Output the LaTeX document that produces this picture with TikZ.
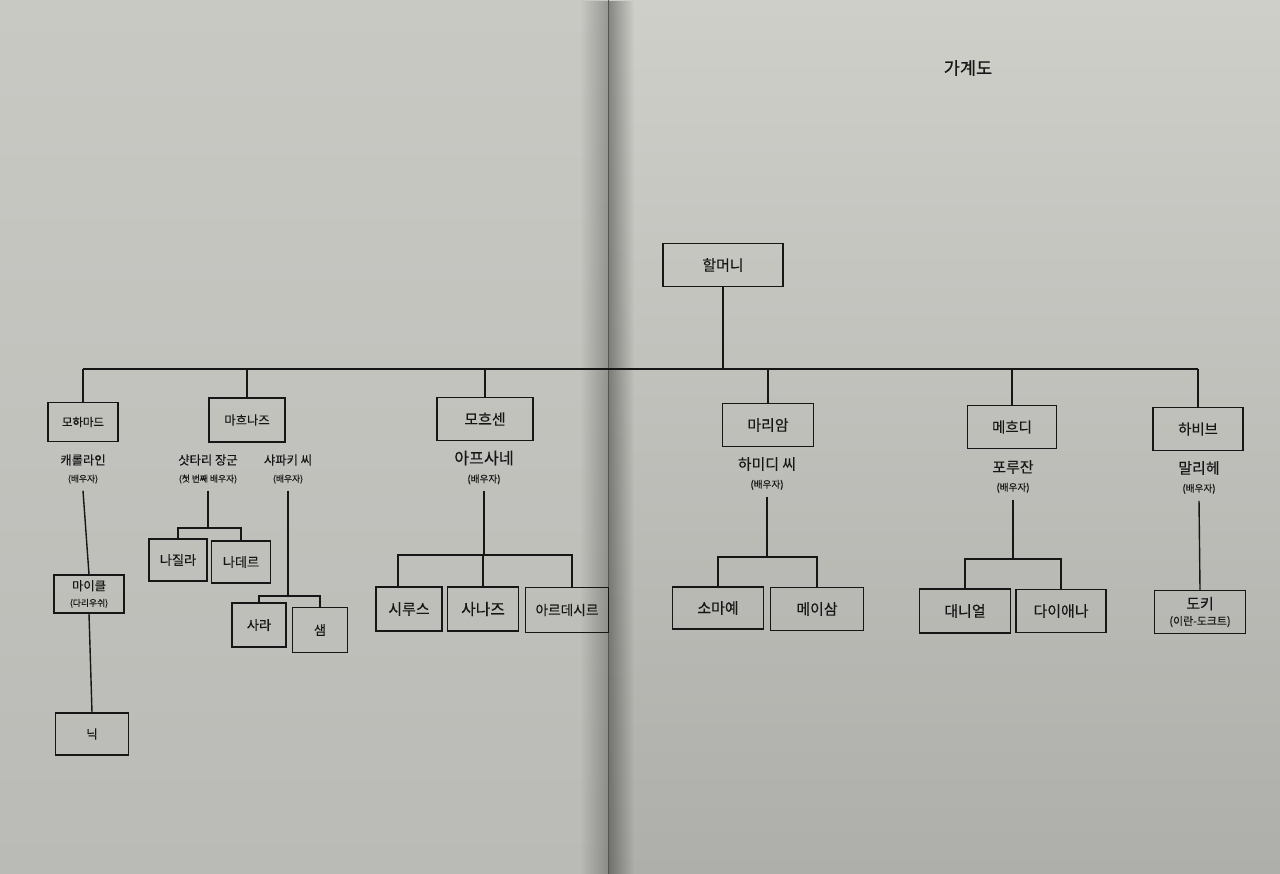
\documentclass[tikz,border=0pt]{standalone}
\usepackage{fontspec}
\setmainfont{Noto Sans CJK KR}[FakeBold=0.35]
\usetikzlibrary{positioning,fadings}
\definecolor{paperLtop}{RGB}{201,201,196}
\definecolor{paperLbot}{RGB}{186,186,182}
\definecolor{paperRtop}{RGB}{207,207,202}
\definecolor{paperRbot}{RGB}{174,174,170}
\definecolor{gutterline}{RGB}{85,85,83}
\definecolor{ink}{RGB}{22,22,22}

\begin{document}
\begin{tikzpicture}[x=0.02cm, y=-0.02cm,
  famline/.style={draw=ink, line width=0.8pt},
  fambox/.style={rectangle, draw=ink, line width=0.8pt, text=ink, inner sep=0pt,
                 minimum width=#1*0.02cm, minimum height=0.86cm,
                 font=\fontsize{8.5}{10}\selectfont},
  smallbox/.style={fambox=#1, minimum height=0.8cm, font=\fontsize{7}{9}\selectfont},
  kidbox/.style={fambox=#1, minimum height=0.84cm, font=\fontsize{7.5}{9}\selectfont},
  spouse/.style={text=ink, inner sep=1pt, font=\fontsize{8.5}{10}\selectfont},
  spousesmall/.style={spouse, font=\fontsize{7}{9}\selectfont},
  note/.style={text=ink, inner sep=1pt, outer sep=3pt, font=\fontsize{5.5}{7}\selectfont},
  notesmall/.style={note, font=\fontsize{5}{6}\selectfont}
]
  % paper and gutter
  \shade[top color=paperLtop, bottom color=paperLbot] (0,0) rectangle (609,874);
  \shade[top color=paperRtop, bottom color=paperRbot] (609,0) rectangle (1280,874);
  \fill[black, opacity=0.25, path fading=west] (580,0) rectangle (608,874);
  \fill[black, opacity=0.35, path fading=east] (609,0) rectangle (634,874);
  \fill[gutterline] (607.5,0) rectangle (609,874);

  \node[text=ink, font=\fontsize{10}{12}\selectfont] (title) at (968,68) {가계도};

  % first generation
  \node[fambox=120] (grandma) at (723,265) {할머니};

  \node[smallbox=70, minimum height=0.78cm, font=\fontsize{6.5}{8}\selectfont] (mohammad) at (83,422) {모하마드};
  \node[smallbox=76, minimum height=0.88cm] (mahnaz) at (247,420) {마흐나즈};
  \node[fambox=96] (mohsen) at (485,419) {모흐센};
  \node[fambox=91] (maryam) at (768,425) {마리암};
  \node[fambox=89, font=\fontsize{8.2}{10}\selectfont] (mehdi) at (1012,427) {메흐디};
  \node[fambox=90, font=\fontsize{8.2}{10}\selectfont] (habib) at (1198,429) {하비브};

  \coordinate (bar) at (0,369);
  \draw[famline] (grandma.south) -- (grandma.south |- bar);
  \draw[famline] (mohammad.north |- bar) -- (habib.north |- bar);
  \foreach \n in {mohammad,mahnaz,mohsen,maryam,mehdi,habib}
    \draw[famline] (\n.north) -- (\n.north |- bar);

  % spouses
  \node[spousesmall] (carol) at (83,460) {캐롤라인};
  \node[notesmall, below=0pt of carol] (carolnote) {(배우자)};
  \node[spousesmall] (shatari) at (208,460) {샷타리 장군};
  \node[notesmall, below=0pt of shatari] (shatarinote) {(첫 번째 배우자)};
  \node[spousesmall] (shapaki) at (288,460) {샤파키 씨};
  \node[notesmall, below=0pt of shapaki] (shapakinote) {(배우자)};
  \node[spouse, font=\fontsize{9.2}{11}\selectfont] (afsaneh) at (484,458) {아프사네};
  \node[note, below=0pt of afsaneh] (afsanehnote) {(배우자)};
  \node[spouse] (hamidi) at (767,464) {하미디 씨};
  \node[note, below=0pt of hamidi] (hamidinote) {(배우자)};
  \node[spouse] (forouzan) at (1013,467) {포루잔};
  \node[note, below=0pt of forouzan] (forouzannote) {(배우자)};
  \node[spouse] (malihe) at (1199,468) {말리헤};
  \node[note, below=0pt of malihe] (malihenote) {(배우자)};

  % children of Mohammad
  \node[smallbox=70, minimum height=0.76cm, align=center, font=\fontsize{7}{10}\selectfont] (michael) at (89,594)
    {마이클\\[-1pt]{\fontsize{5}{6}\selectfont (다리우쉬)}};
  \node[smallbox=73, minimum height=0.84cm] (nick) at (92,734) {닉};
  \draw[famline] (carolnote.south) -- (michael.north);
  \draw[famline] (michael.south) -- (nick.north);

  % children of Mahnaz
  \node[kidbox=58] (nazila) at (178,560) {나질라};
  \node[kidbox=59] (nader) at (241,562) {나데르};
  \node[kidbox=54, minimum height=0.88cm] (sara) at (259,625) {사라};
  \node[kidbox=55, minimum height=0.9cm] (sam) at (320,630) {샘};
  \coordinate (nazbar) at (208,528);
  \coordinate (sarbar) at (288,596);
  \draw[famline] (shatarinote.south) -- (shatarinote.south |- nazbar);
  \draw[famline] (nazila.north) |- (nazbar) -| (nader.north);
  \draw[famline] (shapakinote.south) -- (shapakinote.south |- sarbar);
  \draw[famline] (sara.north) |- (sarbar) -| (sam.north);

  % children of Mohsen
  \node[fambox=66, minimum height=0.88cm] (sirus) at (409,609) {시루스};
  \node[fambox=71, minimum height=0.88cm, font=\fontsize{9}{11}\selectfont] (sanaz) at (483,609) {사나즈};
  \node[fambox=83, minimum height=0.9cm, font=\fontsize{7.8}{10}\selectfont] (ardeshir) at (567,610) {아르데시르};
  \coordinate (mohbarL) at (398,555);
  \coordinate (mohbarR) at (572,555);
  \draw[famline] (afsanehnote.south) -- (afsanehnote.south |- mohbarL);
  \draw[famline] (sirus.north -| mohbarL) -- (mohbarL) -- (mohbarR) -- (ardeshir.north -| mohbarR);
  \draw[famline] (sanaz.north) -- (sanaz.north |- mohbarL);

  % children of Maryam
  \node[fambox=91, minimum height=0.84cm] (somayeh) at (718,608) {소마예};
  \node[fambox=93] (meysam) at (817,609) {메이삼};
  \coordinate (maribar) at (767,557);
  \draw[famline] (hamidinote.south) -- (hamidinote.south |- maribar);
  \draw[famline] (somayeh.north) |- (maribar) -| (meysam.north);

  % children of Mehdi
  \node[fambox=91, minimum height=0.88cm] (daniel) at (965,611) {대니얼};
  \node[fambox=90] (diana) at (1061,611) {다이애나};
  \coordinate (mehbar) at (1013,559);
  \draw[famline] (forouzannote.south) -- (forouzannote.south |- mehbar);
  \draw[famline] (daniel.north) |- (mehbar) -| (diana.north);

  % child of Habib
  \node[fambox=91, align=center, font=\fontsize{8.5}{10}\selectfont] (doki) at (1200,612)
    {도키\\[-1pt]{\fontsize{6.2}{7}\selectfont (이란-도크트)}};
  \draw[famline] (malihenote.south) -- (doki.north);
\end{tikzpicture}
\end{document}
